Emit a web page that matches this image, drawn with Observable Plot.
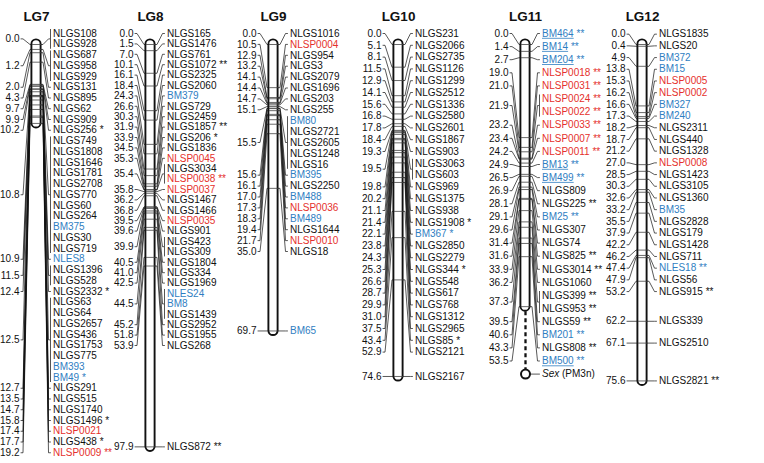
<!DOCTYPE html>
<html><head><meta charset="utf-8">
<script src="https://cdn.jsdelivr.net/npm/d3@7"></script>
<script src="https://cdn.jsdelivr.net/npm/@observablehq/plot@0.6"></script>
<style>
body{margin:0;background:#fff;}
</style></head><body><div id="chart"></div>
<script>
// ---------- data ----------
const groups = ["LG7","LG8","LG9","LG10","LG11","LG12"];

const lg7Pos = [0.0,1.2,2.0,4.3,9.7,9.9,10.2,10.8,10.9,11.5,12.4,12.5,12.7,13.5,14.7,15.8,17.4,17.7,19.2];
const lg7Markers = [["NLGS108","NLGS928"],["NLGS687","NLGS958","NLGS929"],["NLGS131"],["NLGS895"],["NLGS62"],["NLGS909"],["NLGS256 *"],
 ["NLGS749","NLGS1808","NLGS1646","NLGS1781","NLGS2708","NLGS770","NLGS60","NLGS264","BM375","NLGS30","NLGS719"],
 ["NLES8"],["NLGS1396","NLGS528"],["NLGS2332 *"],
 ["NLGS63","NLGS64","NLGS2657","NLGS436","NLGS1753","NLGS775","BM393","BM49 *"],
 ["NLGS291"],["NLGS515"],["NLGS1740"],["NLGS1496 *"],["NLSP0021"],["NLGS438 *"],["NLSP0009 **"]];

const lg8Pos = [0.0,1.5,7.0,10.1,16.1,18.4,24.3,26.6,30.3,31.9,33.9,34.5,35.3,35.4,35.8,36.2,36.8,39.5,39.6,39.9,40.5,41.0,42.5,44.5,45.2,51.8,53.9,97.9];
const lg8Markers = [["NLGS165"],["NLGS1476"],["NLGS761"],["NLGS1072 **"],["NLGS2325"],["NLGS2060"],["BM379"],["NLGS729"],["NLGS2459"],["NLGS1857 **"],["NLGS206 *"],["NLGS1836"],["NLSP0045"],["NLGS3034","NLSP0038 **"],["NLSP0037"],["NLGS1467"],["NLGS1466"],["NLSP0035"],["NLGS901"],["NLGS423","NLGS309"],["NLGS1804"],["NLGS334"],["NLGS1969"],["NLES24","BM8","NLGS1439"],["NLGS2952"],["NLGS1955"],["NLGS268"],["NLGS872 **"]];

const lg9Pos = [0.0,10.5,12.9,13.2,14.1,14.4,14.7,15.1,15.5,15.6,16.1,17.0,17.3,18.3,19.4,21.7,35.0,69.7];
const lg9Markers = [["NLGS1016"],["NLSP0004"],["NLGS954"],["NLGS3"],["NLGS2079"],["NLGS1696"],["NLGS203"],["NLGS255"],["BM80","NLGS2721","NLGS2605","NLGS1248","NLGS16"],["BM395"],["NLGS2250"],["BM488"],["NLSP0036"],["BM489"],["NLGS1644"],["NLSP0010"],["NLGS18"],["BM65"]];

const lg10Pos = [0.0,5.1,8.1,11.5,12.9,14.1,15.6,16.8,17.8,18.4,19.3,19.5,19.8,20.2,21.1,21.4,22.1,23.8,24.3,25.3,26.6,28.7,29.9,31.0,37.5,43.4,52.9,74.6];
const lg10Markers = [["NLGS231"],["NLGS2066"],["NLGS2735"],["NLGS1126"],["NLGS1299"],["NLGS2512"],["NLGS1336"],["NLGS2580"],["NLGS2601"],["NLGS1867"],["NLGS903"],["NLGS3063","NLGS603"],["NLGS969"],["NLGS1375"],["NLGS938"],["NLGS1908 *"],["BM367 *"],["NLGS2850"],["NLGS2279"],["NLGS344 *"],["NLGS548"],["NLGS617"],["NLGS768"],["NLGS1312"],["NLGS2965"],["NLGS85 *"],["NLGS2121"],["NLGS2167"]];

// "_" prefix = underlined marker
const lg11Pos = [0.0,1.4,2.7,19.0,21.0,21.9,23.2,23.4,24.2,24.9,26.5,26.9,28.1,29.1,29.6,31.4,31.6,33.9,36.2,37.3,39.5,40.6,43.3,53.5];
const lg11Markers = [["_BM464 **"],["_BM14 **"],["_BM204 **"],["NLSP0018 **"],["NLSP0031 **"],["NLSP0024 **","NLSP0022 **"],["NLSP0033 **"],["NLSP0007 **"],["NLSP0011 **"],["_BM13 **"],["_BM499 **"],["NLGS809"],["NLGS225 **"],["BM25 **"],["NLGS307"],["NLGS74"],["NLGS825 **"],["NLGS3014 **"],["NLGS1060"],["NLGS399 **","NLGS953 **"],["NLGS59 **"],["BM201 **"],["NLGS808 **"],["_BM500 **"]];
const lg11Trait = ["Sex", " (PM3n)"];

const lg12Pos = [0.0,0.4,4.9,13.8,15.3,16.2,16.6,17.3,18.2,18.7,21.2,27.0,28.5,30.3,32.6,33.2,35.5,37.9,42.2,46.2,47.4,47.9,53.2,62.2,67.1,75.6];
const lg12Markers = [["NLGS1835"],["NLGS20"],["BM372"],["BM15"],["NLSP0005"],["NLSP0002"],["BM327"],["BM240"],["NLGS2311"],["NLGS440"],["NLGS1328"],["NLSP0008"],["NLGS1423"],["NLGS3105"],["NLGS1360"],["BM35"],["NLGS2828"],["NLGS179"],["NLGS1428"],["NLGS711"],["NLES18 **"],["NLGS56"],["NLGS915 **"],["NLGS339"],["NLGS2510"],["NLGS2821 **"]];

const mapData = {LG7:[lg7Pos,lg7Markers],LG8:[lg8Pos,lg8Markers],LG9:[lg9Pos,lg9Markers],LG10:[lg10Pos,lg10Markers],LG11:[lg11Pos,lg11Markers],LG12:[lg12Pos,lg12Markers]};

// ---------- layout (drawing parameters, not data) ----------
const BLACK="#111", BLUE="#2f7ec2", RED="#e5302c";
const FONT = "Liberation Sans, Arial, sans-serif";
const colCenter = [36,150,273,398,525,642];
const pxPerCM = {LG7:4.11, LG8:4.11, LG9:4.11, LG10:4.45, LG11:4.9, LG12:4.45};
const rowGap  = {LG7:10.75, LG8:10.4, LG9:10.9, LG10:11.8, LG11:13.1, LG12:11.7};
const Y0 = 44, TOP = 33, HALF = 4.6;
const xS = Plot.scale({x:{type:"ordinal", domain:groups, range:colCenter}});
const ctx = document.createElement("canvas").getContext("2d");
const tw = (s, f="10px 'Liberation Sans'") => { ctx.font = f; return ctx.measureText(s).width; };

function parse(s){
  const ul = s.startsWith("_"); if (ul) s = s.slice(1);
  const m = s.match(/^(\S+)(?:\s+(\*+))?$/);
  const name = m[1], stars = m[2] || "";
  const color = name.startsWith("NLSP") ? RED : (name.startsWith("BM") || name.startsWith("NLES")) ? BLUE : BLACK;
  return {name, stars, ul, color};
}

const bars=[], ticks=[], lines=[], cmLabels=[], names=[], stars=[], brackets=[], underlines=[], extra={};
groups.forEach(lg => {
  const [pos, mk] = mapData[lg];
  const c = xS.apply(lg);
  const yS = Plot.scale({y:{domain:[0,100], range:[Y0, Y0 + 100*pxPerCM[lg]]}});
  const Y = v => yS.apply(v);
  const GAP = rowGap[lg];
  const items = [];
  pos.forEach((p,li) => mk[li].forEach(s => items.push({...parse(s), li, cm:p, want:Y(p)})));
  let cl = items.map((d,i) => ({a:i,b:i}));
  const top = k => Math.max(TOP, (items[k.a].want + items[k.b].want)/2 - (k.b-k.a)*GAP/2);
  for(;;){
    let merged=false;
    for(let j=0;j<cl.length-1;j++){
      const A=cl[j], B=cl[j+1];
      if (top(B) < top(A) + (A.b-A.a)*GAP + GAP - 1e-6){ cl.splice(j,2,{a:A.a,b:B.b}); merged=true; break; }
    }
    if(!merged) break;
  }
  cl.forEach(k => { const t = top(k); for(let i=k.a;i<=k.b;i++) items[i].ly = t + (i-k.a)*GAP; });

  bars.push({x1:c, x2:c, y1:Y(pos[0]), y2:Y(pos[pos.length-1])});
  pos.forEach((p,li) => {
    const g = items.filter(d => d.li===li);
    const ly = (g[0].ly + g[g.length-1].ly)/2;
    const py = Y(p);
    ticks.push({x1:c-HALF, x2:c+HALF, y:py});
    const id = lg+"-"+li;
    [[c-15.5,ly],[c-13.5,ly],[c-6.5,py],[c-HALF,py]].forEach(([x,y]) => lines.push({id:id+"L", x, y}));
    [[c+HALF,py],[c+6.5,py],[c+12,ly],[c+14,ly]].forEach(([x,y]) => lines.push({id:id+"R", x, y}));
    cmLabels.push({x:c-17, y:ly, text:d3.format(".1f")(p)});
    if (g.length>1) brackets.push({x:c+14, y1:g[0].ly-4.5, y2:g[g.length-1].ly+4.5});
  });
  items.forEach(d => {
    const w = tw(d.name);
    names.push({x:c+16.5, y:d.ly, text:d.name, fill:d.color});
    if (d.ul) underlines.push({x1:c+16.5, x2:c+16.5+w, y:d.ly+4.8, stroke:d.color});
    if (d.stars) stars.push({x:c+16.5+w+2.8, y:d.ly, text:d.stars, fill:d.color});
  });
  if (lg==="LG11"){
    const sy = items[items.length-1].ly + GAP;
    extra.lg11 = {c, end: Y(pos[pos.length-1]) + HALF, sy};
    lines.push({id:"sexR", x:c+HALF, y:sy}, {id:"sexR", x:c+14, y:sy});
  }
});
const sx = extra.lg11;

const chart = Plot.plot({
  width:764, height:463, margin:0,
  x:{domain:[0,764], range:[0,764], axis:null},
  y:{domain:[0,463], range:[0,463], axis:null},
  style:{background:"white", fontFamily:FONT, fontSize:"10px", color:BLACK},
  marks:[
    Plot.link([sx], {x1:"c", x2:"c", y1:"end", y2:"sy", stroke:BLACK, strokeWidth:2.3, strokeDasharray:"4,3"}),
    Plot.line(lines, {x:"x", y:"y", z:"id", stroke:BLACK, strokeWidth:0.7}),
    Plot.link(brackets, {x1:"x", x2:"x", y1:"y1", y2:"y2", stroke:"#555", strokeWidth:1}),
    Plot.rect(bars, {x1:"x1", x2:"x2", y1:"y1", y2:"y2", insetLeft:-HALF, insetRight:-HALF, insetTop:-HALF, insetBottom:-HALF, rx:HALF, fill:"white", stroke:BLACK, strokeWidth:1.9}),
    Plot.link(ticks, {x1:"x1", x2:"x2", y1:"y", y2:"y", stroke:"#444", strokeWidth:0.8}),
    Plot.dot([sx], {x:"c", y:"sy", r:4.5, fill:"white", stroke:BLACK, strokeWidth:2}),
    Plot.text(groups, {x: d => xS.apply(d), frameAnchor:"top", dy:11, text: d => d, fontWeight:"bold", fontSize:13.5, fill:BLACK, fontFamily:FONT}),
    Plot.text(cmLabels, {x:"x", y:"y", text:"text", textAnchor:"end", fill:BLACK, fontSize:10, fontFamily:FONT}),
    Plot.text(names, {x:"x", y:"y", text:"text", fill:"fill", textAnchor:"start", fontSize:10, fontFamily:FONT}),
    Plot.link(underlines, {x1:"x1", x2:"x2", y1:"y", y2:"y", stroke:"stroke", strokeWidth:0.8}),
    Plot.text(stars, {x:"x", y:"y", text:"text", fill:"fill", textAnchor:"start", fontSize:10, fontFamily:FONT}),
    Plot.text([sx], {x: d => d.c+16.5, y:"sy", text: () => lg11Trait[0], fontStyle:"italic", textAnchor:"start", fill:BLACK, fontSize:10, fontFamily:FONT}),
    Plot.text([sx], {x: d => d.c+16.5+tw(lg11Trait[0], "italic 10px 'Liberation Sans'"), y:"sy", text: () => lg11Trait[1], textAnchor:"start", fill:BLACK, fontSize:10, fontFamily:FONT})
  ]
});
document.getElementById("chart").appendChild(chart);
</script>
</body></html>
